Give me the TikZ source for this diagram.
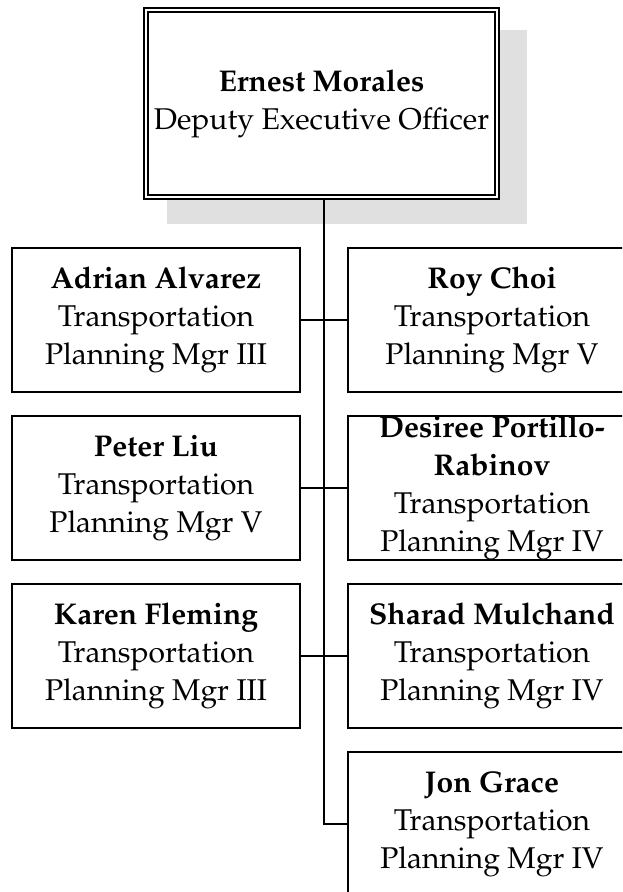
\documentclass[tikz,border=0pt]{standalone}
\usepackage[T1]{fontenc}
\usepackage{mathpazo}
\definecolor{shadowgray}{RGB}{224,224,224}
\tikzset{
  person/.style={draw=black, line width=1.8pt, fill=white,
    minimum width=288pt, minimum height=144pt, inner sep=0pt,
    align=center, font=\fontsize{30}{38}\selectfont},
  bossbox/.style={draw=black, double=white, double distance=2.5pt,
    line width=1.8pt, fill=white, minimum width=351pt, minimum height=187pt,
    inner sep=0pt, align=center, font=\fontsize{30}{38}\selectfont},
  link/.style={draw=black, line width=1.8pt}
}
\begin{document}
\begin{tikzpicture}[x=1pt,y=-1pt]
\useasboundingbox (0,0) rectangle (622,892);
\begin{scope}
\clip (0,0) rectangle (622,892);
\fill[shadowgray] (167,30) rectangle (527,224);
\node[bossbox] (em) at (321.5,103.5) {\textbf{Ernest Morales}\\Deputy Executive Officer};

\node[person] (aa) at (156,320) {\textbf{Adrian Alvarez}\\Transportation\\Planning Mgr III};
\node[person] (rc) at (492,320) {\textbf{Roy Choi}\\Transportation\\Planning Mgr V};
\node[person] (pl) at (156,488) {\textbf{Peter Liu}\\Transportation\\Planning Mgr V};
\node[person] (dp) at (492,488) {\textbf{Desiree Portillo-}\\\textbf{Rabinov}\\Transportation\\Planning Mgr IV};
\node[person] (kf) at (156,656) {\textbf{Karen Fleming}\\Transportation\\Planning Mgr III};
\node[person] (sm) at (492,656) {\textbf{Sharad Mulchand}\\Transportation\\Planning Mgr IV};
\node[person] (jg) at (492,824) {\textbf{Jon Grace}\\Transportation\\Planning Mgr IV};

\coordinate (trunk) at (324,824);
\draw[link] (em.south -| trunk) -- (trunk) -- (jg.west);
\draw[link] (aa.east) -- (rc.west);
\draw[link] (pl.east) -- (dp.west);
\draw[link] (kf.east) -- (sm.west);
\end{scope}
\end{tikzpicture}
\end{document}
